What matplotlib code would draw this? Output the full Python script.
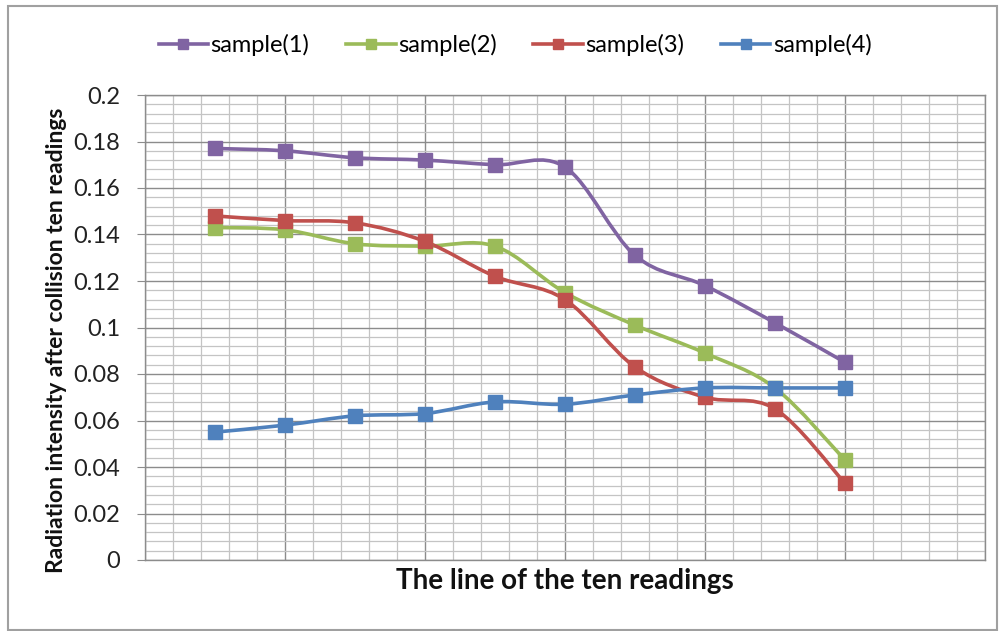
import numpy as np
import matplotlib
matplotlib.use("Agg")
import matplotlib.pyplot as plt
from matplotlib.path import Path
from matplotlib.patches import PathPatch, Rectangle
from matplotlib.lines import Line2D
from matplotlib.ticker import MultipleLocator, FuncFormatter

plt.rcParams['font.family'] = ['Lato', 'DejaVu Sans']

readings = [1, 2, 3, 4, 5, 6, 7, 8, 9, 10]
series_names = ["sample(1)", "sample(2)", "sample(3)", "sample(4)"]
sample1 = [0.177, 0.176, 0.173, 0.172, 0.170, 0.169, 0.131, 0.118, 0.102, 0.085]
sample2 = [0.143, 0.142, 0.136, 0.135, 0.135, 0.115, 0.101, 0.089, 0.074, 0.043]
sample3 = [0.148, 0.146, 0.145, 0.137, 0.122, 0.112, 0.083, 0.070, 0.065, 0.033]
sample4 = [0.055, 0.058, 0.062, 0.063, 0.068, 0.067, 0.071, 0.074, 0.074, 0.074]
colors = ["#8064A2", "#9BBB59", "#C0504D", "#4F81BD"]
y_ticks = [0, 0.02, 0.04, 0.06, 0.08, 0.1, 0.12, 0.14, 0.16, 0.18, 0.2]


def smooth_path(x, y):
    P = np.column_stack([x, y]).astype(float)
    n = len(P)
    verts = [P[0]]
    codes = [Path.MOVETO]
    for i in range(n - 1):
        p0 = P[i - 1] if i > 0 else P[i]
        p1 = P[i]
        p2 = P[i + 1]
        p3 = P[i + 2] if i + 2 < n else P[i + 1]
        c1 = p1 + (p2 - p0) / 6.0
        c2 = p2 - (p3 - p1) / 6.0
        verts += [c1, c2, p2]
        codes += [Path.CURVE4] * 3
    return Path(verts, codes)


fig = plt.figure(figsize=(10.02, 6.31), dpi=100)
W, H = 1002, 631
L, R, T, B = 145, 985, 95, 560
ax = fig.add_axes([L / W, 1 - B / H, (R - L) / W, (B - T) / H])

ax.set_xlim(0, 12)
ax.set_ylim(0, 0.2)
ax.xaxis.set_major_locator(MultipleLocator(2))
ax.xaxis.set_minor_locator(MultipleLocator(0.4))
ax.yaxis.set_major_locator(MultipleLocator(0.02))
ax.yaxis.set_minor_locator(MultipleLocator(0.004))
ax.set_yticks(y_ticks)
ax.yaxis.set_major_formatter(FuncFormatter(lambda v, p: f"{v:g}"))
ax.grid(which='major', color='#8C8C8C', linewidth=1.0)
ax.grid(which='minor', color='#C4C4C4', linewidth=0.9)
ax.set_axisbelow(True)
ax.tick_params(axis='x', which='both', length=0, labelbottom=False)
ax.tick_params(axis='y', which='major', length=6, color='#8C8C8C', labelsize=17,
               pad=12, labelcolor='#222222')
ax.tick_params(axis='y', which='minor', length=0)
for s in ax.spines.values():
    s.set_color('#8C8C8C')
    s.set_linewidth(1.0)

all_series = [sample1, sample2, sample3, sample4]
handles = []
for name, vals, c in zip(series_names, all_series, colors):
    patch = PathPatch(smooth_path(readings, vals), facecolor='none', edgecolor=c,
                      linewidth=2.6, capstyle='round', joinstyle='round', zorder=3)
    ax.add_patch(patch)
    ax.plot(readings, vals, linestyle='none', marker='s', markersize=10,
            color=c, markeredgecolor=c, zorder=4)
    handles.append(Line2D([0], [0], color=c, linewidth=2.6, marker='s',
                          markersize=7, label=name))

ax.set_xlabel("The line of the ten readings", fontsize=20, fontweight='bold',
              labelpad=6, color='#111111')
ax.set_ylabel("Radiation intensity after collision ten readings", fontsize=16.5,
              fontweight='bold', color='#111111')
ax.yaxis.set_label_coords((67 - L) / (R - L), (B - 340) / (B - T))

fig.legend(handles=handles, loc='center', bbox_to_anchor=(0.514, 0.929), ncol=4,
           frameon=False, fontsize=17, handlelength=2.1, handletextpad=0.1,
           columnspacing=1.55)

fig.patches.append(Rectangle((8 / W, 1 - 630 / H), (997 - 8) / W, (630 - 6) / H,
                             transform=fig.transFigure, fill=False,
                             edgecolor='#A0A0A0', linewidth=1.5))

fig.savefig("out.png", dpi=100)
